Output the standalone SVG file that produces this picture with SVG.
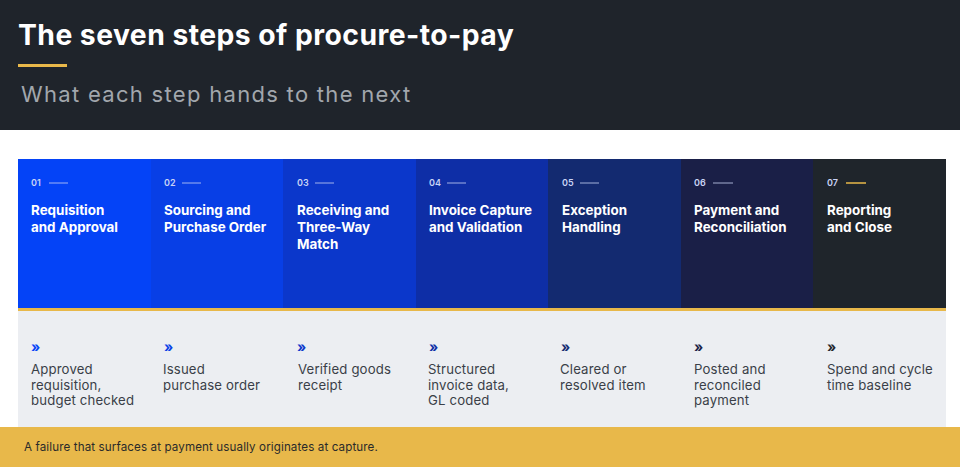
<svg xmlns="http://www.w3.org/2000/svg" width="960" height="467" viewBox="0 0 960 467">
<style>
.f{font-family:Inter,"DejaVu Sans",sans-serif}
.num{font-family:Inter,"DejaVu Sans",sans-serif;font-size:9px;font-weight:600;fill:#c9d3f5}
.ttl{font-family:Inter,"DejaVu Sans",sans-serif;font-size:13.4px;font-weight:700;fill:#ffffff}
.body{font-family:Inter,"DejaVu Sans",sans-serif;font-size:13.2px;fill:#3a3f48;letter-spacing:0.15px}
.chev{font-family:Inter,"DejaVu Sans",sans-serif;font-size:14px;font-weight:700}
.tick{stroke:#c9d3f5;stroke-width:1;opacity:0.8}
</style>
<rect x="0" y="0" width="960" height="130" fill="#1f242b"/>
<rect x="0" y="130" width="960" height="337" fill="#ffffff"/>
<g id="header">
<text x="18" y="45" class="f" font-size="28.3" font-weight="700" fill="#ffffff" letter-spacing="0.45">The seven steps of procure-to-pay</text>
<rect x="18" y="64" width="49" height="3" fill="#e8b84a"/>
<text x="21" y="102" class="f" font-size="22" fill="#a2a7ad" letter-spacing="1.3">What each step hands to the next</text>
</g>
<rect x="18" y="311" width="928" height="116" fill="#eceef2"/>
<rect x="18" y="308" width="928" height="3" fill="#e8b84a"/>
<g id="connectors"></g>
<g id="step1">
<rect x="18" y="159" width="133" height="149" fill="#0443f7"/>
<text x="31" y="186" class="num">01</text><line x1="49" y1="183" x2="68" y2="183" class="tick"/>
<text class="ttl"><tspan x="31" y="215">Requisition</tspan><tspan x="31" y="232">and Approval</tspan></text>
<text x="31" y="352" class="chev" fill="#0443f7">»</text>
<text class="body"><tspan x="31" y="374">Approved</tspan><tspan x="31" y="389.5">requisition,</tspan><tspan x="31" y="405">budget checked</tspan></text>
</g>
<g id="step2">
<rect x="151" y="159" width="132" height="149" fill="#083fe6"/>
<text x="164" y="186" class="num">02</text><line x1="182" y1="183" x2="201" y2="183" class="tick"/>
<text class="ttl"><tspan x="164" y="215">Sourcing and</tspan><tspan x="164" y="232">Purchase Order</tspan></text>
<text x="164" y="352" class="chev" fill="#083fe6">»</text>
<text class="body"><tspan x="163" y="374">Issued</tspan><tspan x="163" y="389.5">purchase order</tspan></text>
</g>
<g id="step3">
<rect x="283" y="159" width="133" height="149" fill="#0b37cb"/>
<text x="297" y="186" class="num">03</text><line x1="315" y1="183" x2="334" y2="183" class="tick"/>
<text class="ttl"><tspan x="297" y="215">Receiving and</tspan><tspan x="297" y="232">Three-Way</tspan><tspan x="297" y="249">Match</tspan></text>
<text x="297" y="352" class="chev" fill="#0b37cb">»</text>
<text class="body"><tspan x="298" y="374">Verified goods</tspan><tspan x="298" y="389.5">receipt</tspan></text>
</g>
<g id="step4">
<rect x="416" y="159" width="132" height="149" fill="#0e2ea6"/>
<text x="429" y="186" class="num">04</text><line x1="447" y1="183" x2="466" y2="183" class="tick"/>
<text class="ttl"><tspan x="429" y="215">Invoice Capture</tspan><tspan x="429" y="232">and Validation</tspan></text>
<text x="429" y="352" class="chev" fill="#0e2ea6">»</text>
<text class="body"><tspan x="428" y="374">Structured</tspan><tspan x="428" y="389.5">invoice data,</tspan><tspan x="428" y="405">GL coded</tspan></text>
</g>
<g id="step5">
<rect x="548" y="159" width="133" height="149" fill="#132a70"/>
<text x="562" y="186" class="num">05</text><line x1="580" y1="183" x2="599" y2="183" class="tick"/>
<text class="ttl"><tspan x="562" y="215">Exception</tspan><tspan x="562" y="232">Handling</tspan></text>
<text x="561" y="352" class="chev" fill="#132a70">»</text>
<text class="body"><tspan x="560" y="374">Cleared or</tspan><tspan x="560" y="389.5">resolved item</tspan></text>
</g>
<g id="step6">
<rect x="681" y="159" width="132" height="149" fill="#1a1f47"/>
<text x="694" y="186" class="num">06</text><line x1="713" y1="183" x2="733" y2="183" class="tick"/>
<text class="ttl"><tspan x="694" y="215">Payment and</tspan><tspan x="694" y="232">Reconciliation</tspan></text>
<text x="694" y="352" class="chev" fill="#1a1f47">»</text>
<text class="body"><tspan x="694" y="374">Posted and</tspan><tspan x="694" y="389.5">reconciled</tspan><tspan x="694" y="405">payment</tspan></text>
</g>
<g id="step7">
<rect x="813" y="159" width="133" height="149" fill="#1f252b"/>
<text x="827" y="186" class="num">07</text><line x1="846" y1="183" x2="866" y2="183" stroke="#e8b84a" stroke-width="1.5"/>
<text class="ttl"><tspan x="827" y="215">Reporting</tspan><tspan x="827" y="232">and Close</tspan></text>
<text x="827" y="352" class="chev" fill="#1f252b">»</text>
<text class="body"><tspan x="827" y="374">Spend and cycle</tspan><tspan x="827" y="389.5">time baseline</tspan></text>
</g>
<g id="footer">
<rect x="0" y="427" width="960" height="40" fill="#e8b84a"/>
<text x="24" y="451" class="f" font-size="11.6" fill="#2a2a2a" letter-spacing="0.12">A failure that surfaces at payment usually originates at capture.</text>
</g>
</svg>
